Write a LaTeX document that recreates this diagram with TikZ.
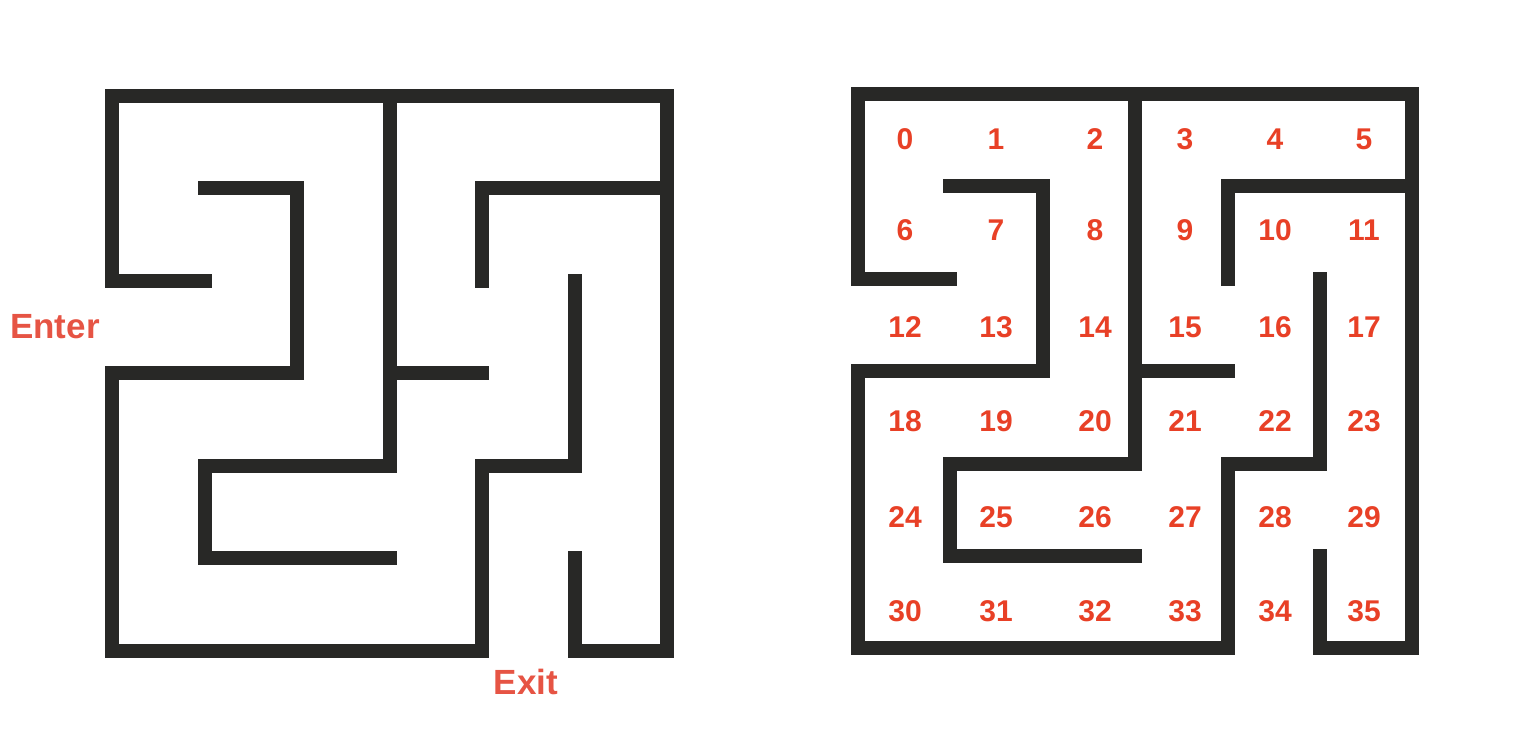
\documentclass[tikz,border=0pt]{standalone}
\usepackage{fontspec}
\setmainfont{Liberation Sans}
\definecolor{wallgray}{RGB}{40,40,38}
\definecolor{signred}{RGB}{230,84,68}
\definecolor{numred}{RGB}{232,64,38}

% walls of one maze, in cell units
\newcommand{\mazewalls}{%
  \draw[wall] (1,2) -- (0,2) -- (0,0) -- (6,0) -- (6,6) -- (5,6) -- (5,5);
  \draw[wall] (1,1) -- (2,1) -- (2,3) -- (0,3) -- (0,6) -- (4,6) -- (4,4) -- (5,4) -- (5,2);
  \draw[wall] (3,0) -- (3,4) -- (1,4) -- (1,5) -- (3,5);
  \draw[wall] (3,3) -- (4,3);
  \draw[wall] (4,2) -- (4,1) -- (6,1);
}

\begin{document}
\begin{tikzpicture}[x=1pt,y=-1pt,
    wall/.style={line width=14pt,color=wallgray,line cap=rect,line join=miter},
    sign/.style={font=\fontsize{35}{40}\selectfont\bfseries,text=signred},
    cellnum/.style={font=\fontsize{30}{36}\selectfont\bfseries,text=numred}]
  \useasboundingbox (0,0) rectangle (1528,736);

  % left maze
  \begin{scope}[shift={(112,95.5)},x=92.5pt,y=-92.5pt]
    \mazewalls
  \end{scope}
  \node[sign] (enter) at (55,327) {Enter};
  \node[sign] (exit) at (526,682) {Exit};

  % right maze with numbered cells
  \begin{scope}[shift={(858,94)},x=92.4pt,y=-92.4pt]
    \mazewalls
  \end{scope}
  \foreach \y [count=\r from 0] in {139,230,327,421,517,611}
    \foreach \x [count=\c from 0] in {905,996,1095,1185,1275,1364}{
      \pgfmathtruncatemacro\n{6*\r+\c}
      \node[cellnum] (c\n) at (\x,\y) {\n};
    }
\end{tikzpicture}
\end{document}
